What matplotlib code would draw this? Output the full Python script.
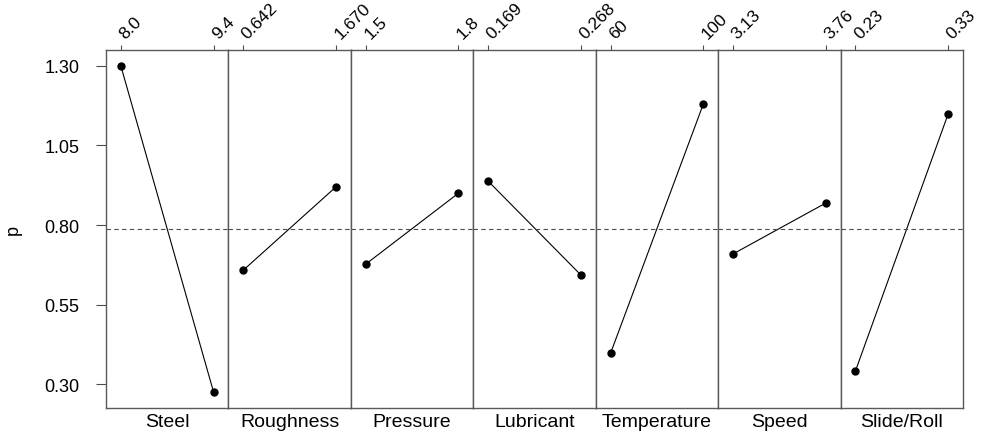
import numpy as np
import matplotlib
matplotlib.use('Agg')
import matplotlib.pyplot as plt
from matplotlib.transforms import ScaledTranslation

plt.rcParams['font.family'] = ['Liberation Sans', 'DejaVu Sans']
plt.rcParams['font.size'] = 13

factors = ['Steel', 'Roughness', 'Pressure', 'Lubricant', 'Temperature', 'Speed', 'Slide/Roll']
levels_lo = [8.0, 0.642, 1.5, 0.169, 60, 3.13, 0.23]
levels_hi = [9.4, 1.670, 1.8, 0.268, 100, 3.76, 0.33]
level_labels = [('8.0', '9.4'), ('0.642', '1.670'), ('1.5', '1.8'), ('0.169', '0.268'),
                ('60', '100'), ('3.13', '3.76'), ('0.23', '0.33')]
p_lo = [1.30, 0.658, 0.677, 0.938, 0.397, 0.709, 0.341]
p_hi = [0.275, 0.920, 0.900, 0.643, 1.180, 0.869, 1.149]
grand_mean = 0.787
yticks = [0.30, 0.55, 0.80, 1.05, 1.30]

fig, axes = plt.subplots(1, 7, sharey=True, figsize=(9.83, 4.35), dpi=100,
                         gridspec_kw=dict(wspace=0, left=106/983, right=963/983,
                                          bottom=1-409/435, top=1-51/435))

# shift rotated top labels a bit to the right, like the original
shift = ScaledTranslation(4.5/100, 0, fig.dpi_scale_trans)

for i, ax in enumerate(axes):
    lo, hi = levels_lo[i], levels_hi[i]
    ax.plot([lo, hi], [p_lo[i], p_hi[i]], color='black', lw=0.8,
            marker='o', markersize=5, markerfacecolor='black', markeredgecolor='black')
    ax.axhline(grand_mean, color='0.3', lw=0.8, ls=(0, (4, 3)))
    d = hi - lo
    ax.set_xlim(lo - 0.16 * d, hi + 0.16 * d)
    ax.xaxis.tick_top()
    ax.set_xticks([lo, hi])
    ax.set_xticklabels(level_labels[i], rotation=45, ha='left', va='baseline',
                       rotation_mode='anchor', fontsize=12.5)
    ax.tick_params(axis='x', length=3.5, pad=4.5, color='0.3')
    for lbl in ax.get_xticklabels():
        lbl.set_transform(lbl.get_transform() + shift)
    ax.text(0.5, -0.015, factors[i], transform=ax.transAxes, ha='center', va='top',
            fontsize=14)
    for s in ax.spines.values():
        s.set_color('0.35')
        s.set_linewidth(1.0)
    if i > 0:
        ax.tick_params(axis='y', left=False)

axes[0].set_ylim(0.225, 1.35)
axes[0].set_yticks(yticks)
axes[0].set_yticklabels(['%.2f' % v for v in yticks])
axes[0].tick_params(axis='y', length=7, pad=12, color='0.3')
axes[0].set_ylabel('p', labelpad=16)

fig.savefig('out.png', dpi=100)
